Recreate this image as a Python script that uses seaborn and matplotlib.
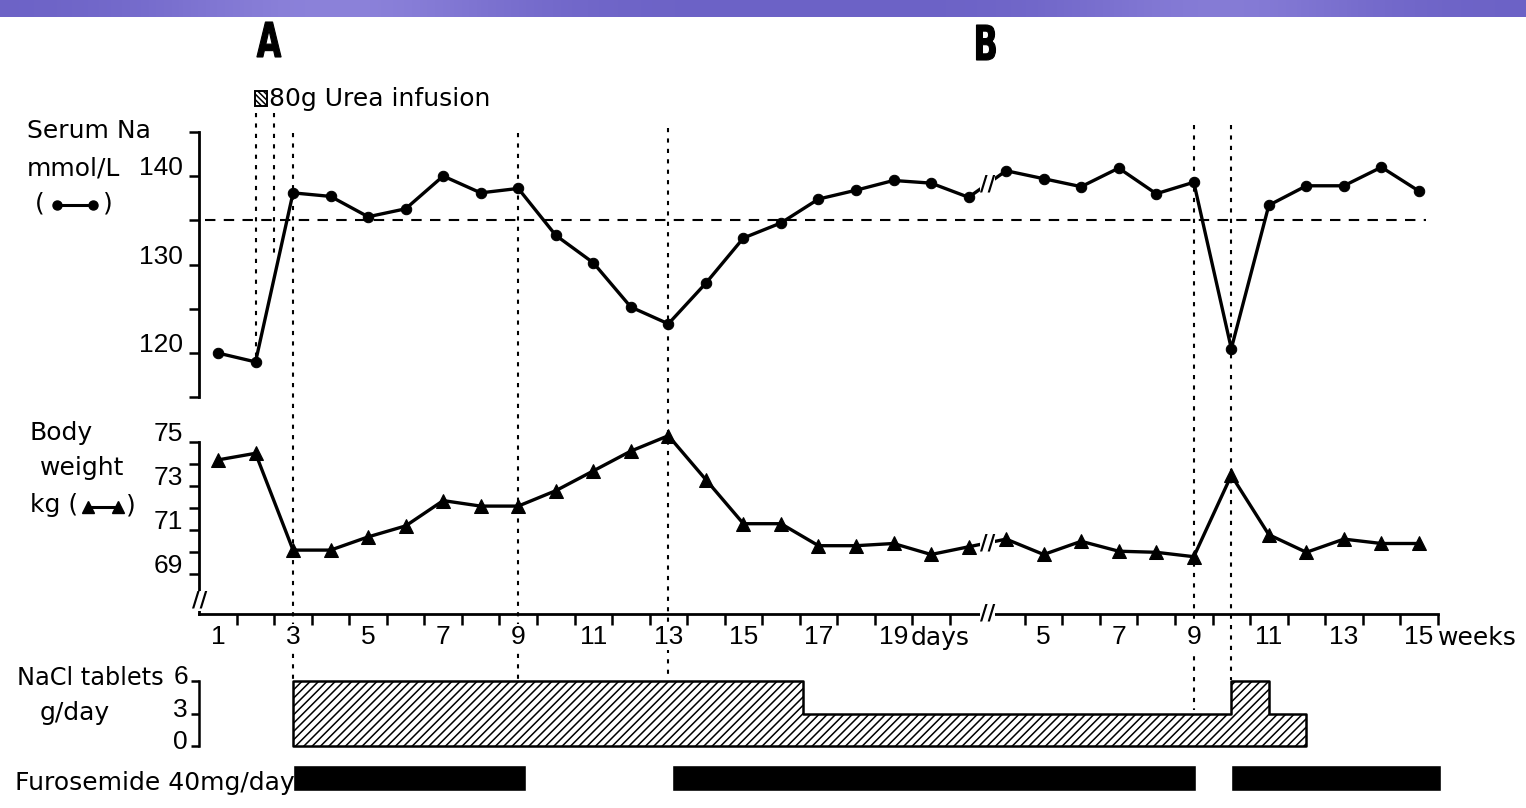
import matplotlib
matplotlib.use("Agg")
import numpy as np
import matplotlib.pyplot as plt
import matplotlib.transforms as mtransforms
from matplotlib.patches import Rectangle, PathPatch
from matplotlib.lines import Line2D
from matplotlib.textpath import TextPath
from matplotlib.font_manager import FontProperties
import seaborn as sns

# ---------------- data ----------------
day_numbers = list(range(1, 22))
week_numbers = list(range(4, 16))
serum_na_days = [120.0, 119.0, 138.1, 137.7, 135.4, 136.3, 140.0, 138.1, 138.6, 133.3, 130.2,
                 125.2, 123.3, 127.9, 133.0, 134.7, 137.4, 138.4, 139.5, 139.2, 137.6]
serum_na_weeks = [140.6, 139.7, 138.8, 140.9, 138.0, 139.3, 120.5, 136.7, 138.9, 138.9, 141.0, 138.3]
weight_days = [74.2, 74.5, 70.1, 70.1, 70.7, 71.2, 72.35, 72.1, 72.1, 72.8, 73.7, 74.6, 75.3,
               73.3, 71.3, 71.3, 70.3, 70.3, 70.4, 69.9, 70.25]
weight_weeks = [70.6, 69.9, 70.5, 70.05, 70.0, 69.8, 73.5, 70.8, 70.0, 70.6, 70.4, 70.4]
na_normal = 135

day_tick_labels = [1, 3, 5, 7, 9, 11, 13, 15, 17, 19]
week_tick_labels = [5, 7, 9, 11, 13, 15]
na_ticks = [115, 120, 125, 130, 135, 140, 145]
na_tick_labels = [120, 130, 140]
weight_ticks = [69, 70, 71, 72, 73, 74, 75]
weight_tick_labels = [69, 71, 73, 75]
nacl_tick_labels = [0, 3, 6]

urea_days = [2, 2.5]
event_days = [3, 9, 13]
event_weeks = [9, 10]

nacl_times = [3, 16.6, 10, 11, 12]
nacl_units = ["day", "day", "week", "week", "week"]
nacl_doses = [6, 3, 6, 3, 3]

furo_start = [3, 13.1, 10]
furo_start_unit = ["day", "day", "week"]
furo_end = [9.2, 9.05, 15.6]
furo_end_unit = ["day", "week", "week"]

WEEK_SHIFT = 18          # weeks drawn after the day section on a common axis
BREAK_POS = 21.5


def pos(t, unit):
    return t if unit == "day" else t + WEEK_SHIFT


# ---------------- style ----------------
sns.set_theme(style="white", rc={"text.color": "black", "axes.labelcolor": "black",
                                 "xtick.color": "black", "ytick.color": "black"})
plt.rcParams['font.family'] = ['DejaVu Sans']
plt.rcParams['hatch.linewidth'] = 1.1
plt.rcParams['text.color'] = 'black'
NUM_FONT = ['Liberation Sans Narrow', 'Liberation Sans', 'DejaVu Sans']
WORD_FS = 18
NUM_FS = 19

W, H = 1526, 808
fig = plt.figure(figsize=(W / 100, H / 100), dpi=100)
fig.patch.set_facecolor("white")

X0_PX, X_PER = 218.0, 37.53
XLIM = (1 - X0_PX / X_PER, 1 + (W - X0_PX) / X_PER)


def add_axes_px(top, bottom, z=2):
    ax = fig.add_axes([0, 1 - bottom / H, 1, (bottom - top) / H])
    ax.set_facecolor("none")
    ax.set_zorder(z)
    return ax


# background overlay in (position, pixel) units
ax_o = add_axes_px(0, H, z=1)
ax_o.set_xlim(XLIM)
ax_o.set_ylim(H, 0)
ax_o.axis("off")

# pure pixel overlay for decorations / labels
ax_px = add_axes_px(0, H, z=3)
ax_px.set_xlim(0, W)
ax_px.set_ylim(H, 0)
ax_px.axis("off")

# top decorative band
xs = np.linspace(0, 1, 400)
bump = np.exp(-((xs - 0.22) / 0.12) ** 2) + 0.8 * np.exp(-((xs - 0.8) / 0.1) ** 2)
r = 108 + 32 * bump
g = 98 + 32 * bump
b = 198 + 20 * bump
band = np.stack([r, g, b], axis=-1)[None, :, :] / 255.0
ax_px.imshow(band, extent=(0, W, 17, 0), aspect="auto", zorder=0)
ax_px.set_xlim(0, W)
ax_px.set_ylim(H, 0)

pos_days = [pos(d, "day") for d in day_numbers]
pos_weeks = [pos(w, "week") for w in week_numbers]
all_pos = pos_days + pos_weeks

# ---------------- serum Na ----------------
NA_TOP_PX, NA_PX_PER = 131.8, 8.85
ax_na = add_axes_px(NA_TOP_PX, NA_TOP_PX + 30 * NA_PX_PER)
sns.lineplot(x=all_pos, y=serum_na_days + serum_na_weeks, ax=ax_na, color="black",
             linewidth=2.4, marker="o", markersize=7.5, markeredgecolor="black", zorder=3)
ax_na.set_xlim(XLIM)
ax_na.set_ylim(115, 145)
ax_na.hlines(na_normal, 0.65, 33.2, colors="black", linestyles=(0, (5, 4)), linewidth=1.5)
for s in ["top", "right", "bottom"]:
    ax_na.spines[s].set_visible(False)
ax_na.spines["left"].set_position(("data", 0.5))
ax_na.spines["left"].set_bounds(115, 145)
ax_na.spines["left"].set_linewidth(2)
ax_na.spines["left"].set_color("black")
ax_na.set_xticks([])
ax_na.set_yticks(na_ticks)
ax_na.tick_params(axis="y", direction="out", length=7, width=1.8, color="black",
                  left=True, labelleft=False)
ax_na.text(BREAK_POS, 139.1, "//", ha="center", va="center", fontsize=15,
           fontweight="bold", zorder=5,
           bbox=dict(facecolor="white", edgecolor="none", pad=0))

# ---------------- body weight ----------------
WT_PX75, WT_PX_PER = 442.3, 22.0
WT_TOP, WT_BOT = 76.0, 67.2
ax_wt = add_axes_px(WT_PX75 - (WT_TOP - 75) * WT_PX_PER, WT_PX75 + (75 - WT_BOT) * WT_PX_PER)
sns.lineplot(x=all_pos, y=weight_days + weight_weeks, ax=ax_wt, color="black",
             linewidth=2.4, marker="^", markersize=10, markeredgecolor="black", zorder=3)
ax_wt.set_xlim(XLIM)
ax_wt.set_ylim(WT_BOT, WT_TOP)
for s in ["top", "right"]:
    ax_wt.spines[s].set_visible(False)
ax_wt.spines["left"].set_position(("data", 0.5))
ax_wt.spines["left"].set_bounds(WT_BOT, 75)
ax_wt.spines["bottom"].set_bounds(0.5, 33.5)
for s in ["left", "bottom"]:
    ax_wt.spines[s].set_linewidth(2)
    ax_wt.spines[s].set_color("black")
ax_wt.set_yticks(weight_ticks)
ax_wt.tick_params(axis="y", direction="out", length=7, width=1.8, color="black",
                  left=True, labelleft=False)
major_pos = [pos(d, "day") for d in day_tick_labels] + [pos(w, "week") for w in week_tick_labels]
major_lab = [str(d) for d in day_tick_labels] + [str(w) for w in week_tick_labels]
ax_wt.set_xticks(major_pos)
ax_wt.set_xticklabels(major_lab, fontsize=NUM_FS, family=NUM_FONT, color="black")
minor_pos = [d + 0.5 for d in day_numbers[:-1]] + [w + 0.5 + WEEK_SHIFT for w in week_numbers]
ax_wt.set_xticks(minor_pos, minor=True)
ax_wt.tick_params(axis="x", which="major", length=0, pad=8, bottom=True)
ax_wt.tick_params(axis="x", which="minor", direction="out", length=8, width=1.8,
                  color="black", bottom=True)
for lab in ax_wt.get_xticklabels():
    lab.set_bbox(dict(facecolor="white", edgecolor="none", pad=1))
ax_wt.text(BREAK_POS, 70.42, "//", ha="center", va="center", fontsize=15,
           fontweight="bold", zorder=5, bbox=dict(facecolor="white", edgecolor="none", pad=0))
ax_wt.text(BREAK_POS, WT_BOT, "//", ha="center", va="center", fontsize=15,
           fontweight="bold", zorder=5, bbox=dict(facecolor="white", edgecolor="none", pad=0))
ax_wt.text(0.5, 67.8, "//", ha="center", va="center", fontsize=15, fontweight="bold",
           zorder=5, bbox=dict(facecolor="white", edgecolor="none", pad=0))
# axis words
down = mtransforms.ScaledTranslation(0, -0.24, fig.dpi_scale_trans)
ax_wt.text(pos(19, "day") + 0.45, WT_BOT, "days", transform=ax_wt.transData + down,
           ha="left", va="center", fontsize=WORD_FS)
ax_wt.text(pos(15, "week") + 0.5, WT_BOT, "weeks", transform=ax_wt.transData + down,
           ha="left", va="center", fontsize=WORD_FS)

# ---------------- NaCl tablets ----------------
NACL_PX0, NACL_PX_PER = 746.0, 10.83
ax_nacl = add_axes_px(NACL_PX0 - 7.0 * NACL_PX_PER, NACL_PX0 + 0.5 * NACL_PX_PER)
nx = [pos(t, u) for t, u in zip(nacl_times, nacl_units)]
ax_nacl.fill_between(nx, 0, nacl_doses, step="post", facecolor="white", edgecolor="black",
                     hatch="////", linewidth=1.8, zorder=2)
ax_nacl.set_xlim(XLIM)
ax_nacl.set_ylim(-0.5, 7.0)
for s in ["top", "right", "bottom"]:
    ax_nacl.spines[s].set_visible(False)
ax_nacl.spines["left"].set_position(("data", 0.5))
ax_nacl.spines["left"].set_bounds(0, 6)
ax_nacl.spines["left"].set_linewidth(1.8)
ax_nacl.spines["left"].set_color("black")
ax_nacl.set_xticks([])
ax_nacl.set_yticks(nacl_tick_labels)
ax_nacl.tick_params(axis="y", direction="out", length=6, width=1.8, color="black",
                    left=True, labelleft=False)

# ---------------- furosemide bars ----------------
fs = [pos(t, u) for t, u in zip(furo_start, furo_start_unit)]
fe = [pos(t, u) for t, u in zip(furo_end, furo_end_unit)]
ax_o.barh([778] * len(fs), [e - s for s, e in zip(fs, fe)], left=fs, height=26,
          color="black", zorder=2)

# ---------------- event lines ----------------
dot = (0, (2, 3))
ax_o.vlines(pos(urea_days[0], "day"), 113, 362, colors="black", linestyles=dot, linewidth=1.5)
ax_o.vlines(pos(urea_days[1], "day"), 113, 255, colors="black", linestyles=dot, linewidth=1.5)
for d, top in zip(event_days, [133, 133, 128]):
    ax_o.vlines(pos(d, "day"), top, 680, colors="black", linestyles=dot, linewidth=1.5)
for w, bot in zip(event_weeks, [710, 680]):
    ax_o.vlines(pos(w, "week"), 125, bot, colors="black", linestyles=dot, linewidth=1.5)

# ---------------- tick value labels ----------------
up = mtransforms.ScaledTranslation(0, 0.08, fig.dpi_scale_trans)
for v in na_tick_labels:
    ax_na.text(183, v, str(v), transform=mtransforms.blended_transform_factory(
        ax_px.transData, ax_na.transData) + up, ha="right", va="center",
        fontsize=NUM_FS, family=NUM_FONT)
for v in weight_tick_labels:
    ax_wt.text(183, v, str(v), transform=mtransforms.blended_transform_factory(
        ax_px.transData, ax_wt.transData) + up, ha="right", va="center",
        fontsize=NUM_FS, family=NUM_FONT)
for v in nacl_tick_labels:
    ax_nacl.text(188, v, str(v), transform=mtransforms.blended_transform_factory(
        ax_px.transData, ax_nacl.transData) + mtransforms.ScaledTranslation(0, 0.04, fig.dpi_scale_trans),
        ha="right", va="center", fontsize=NUM_FS, family=NUM_FONT)


# ---------------- panel letters (condensed heavy glyphs) ----------------
def panel_letter(ch, cx, baseline, height=35, xscale=0.66):
    fp = FontProperties(family="DejaVu Sans", weight="bold")
    tp = TextPath((0, 0), ch, size=48, prop=fp)
    ext = tp.get_extents()
    sy = height / ext.height
    tr = mtransforms.Affine2D().translate(-(ext.x0 + ext.width / 2), -ext.y0) \
        .scale(sy * xscale, -sy).translate(cx, baseline)
    ax_px.add_patch(PathPatch(tr.transform_path(tp), facecolor="black", edgecolor="black",
                              linewidth=0.8, zorder=5))


panel_letter("A", 269, 57)
panel_letter("B", 986, 60)

# ---------------- text labels ----------------
ax_px.add_patch(Rectangle((255, 91), 12, 15, facecolor="white", edgecolor="black",
                          hatch="\\\\\\\\\\\\", linewidth=1.4))
ax_px.text(269, 99, "80g Urea infusion", ha="left", va="center", fontsize=WORD_FS)

ax_px.text(27, 131, "Serum Na", ha="left", va="center", fontsize=WORD_FS)
ax_px.text(27, 168, "mmol/L", ha="left", va="center", fontsize=WORD_FS)
ax_px.text(40, 203, "(", ha="center", va="center", fontsize=WORD_FS)
ax_px.add_line(Line2D([57, 93], [205, 205], color="black", lw=2.2, marker="o", markersize=6.5))
ax_px.text(108, 203, ")", ha="center", va="center", fontsize=WORD_FS)

ax_px.text(30, 433, "Body", ha="left", va="center", fontsize=WORD_FS)
ax_px.text(40, 468, "weight", ha="left", va="center", fontsize=WORD_FS)
ax_px.text(30, 505, "kg (", ha="left", va="center", fontsize=WORD_FS)
ax_px.add_line(Line2D([88, 118], [507, 507], color="black", lw=2.2, marker="^", markersize=8))
ax_px.text(131, 505, ")", ha="center", va="center", fontsize=WORD_FS)

ax_px.text(17, 678, "NaCl tablets", ha="left", va="center", fontsize=17.3)
ax_px.text(40, 713, "g/day", ha="left", va="center", fontsize=WORD_FS)
ax_px.text(15, 783, "Furosemide 40mg/day", ha="left", va="center", fontsize=WORD_FS)

fig.savefig("out.png", dpi=100, facecolor="white")
